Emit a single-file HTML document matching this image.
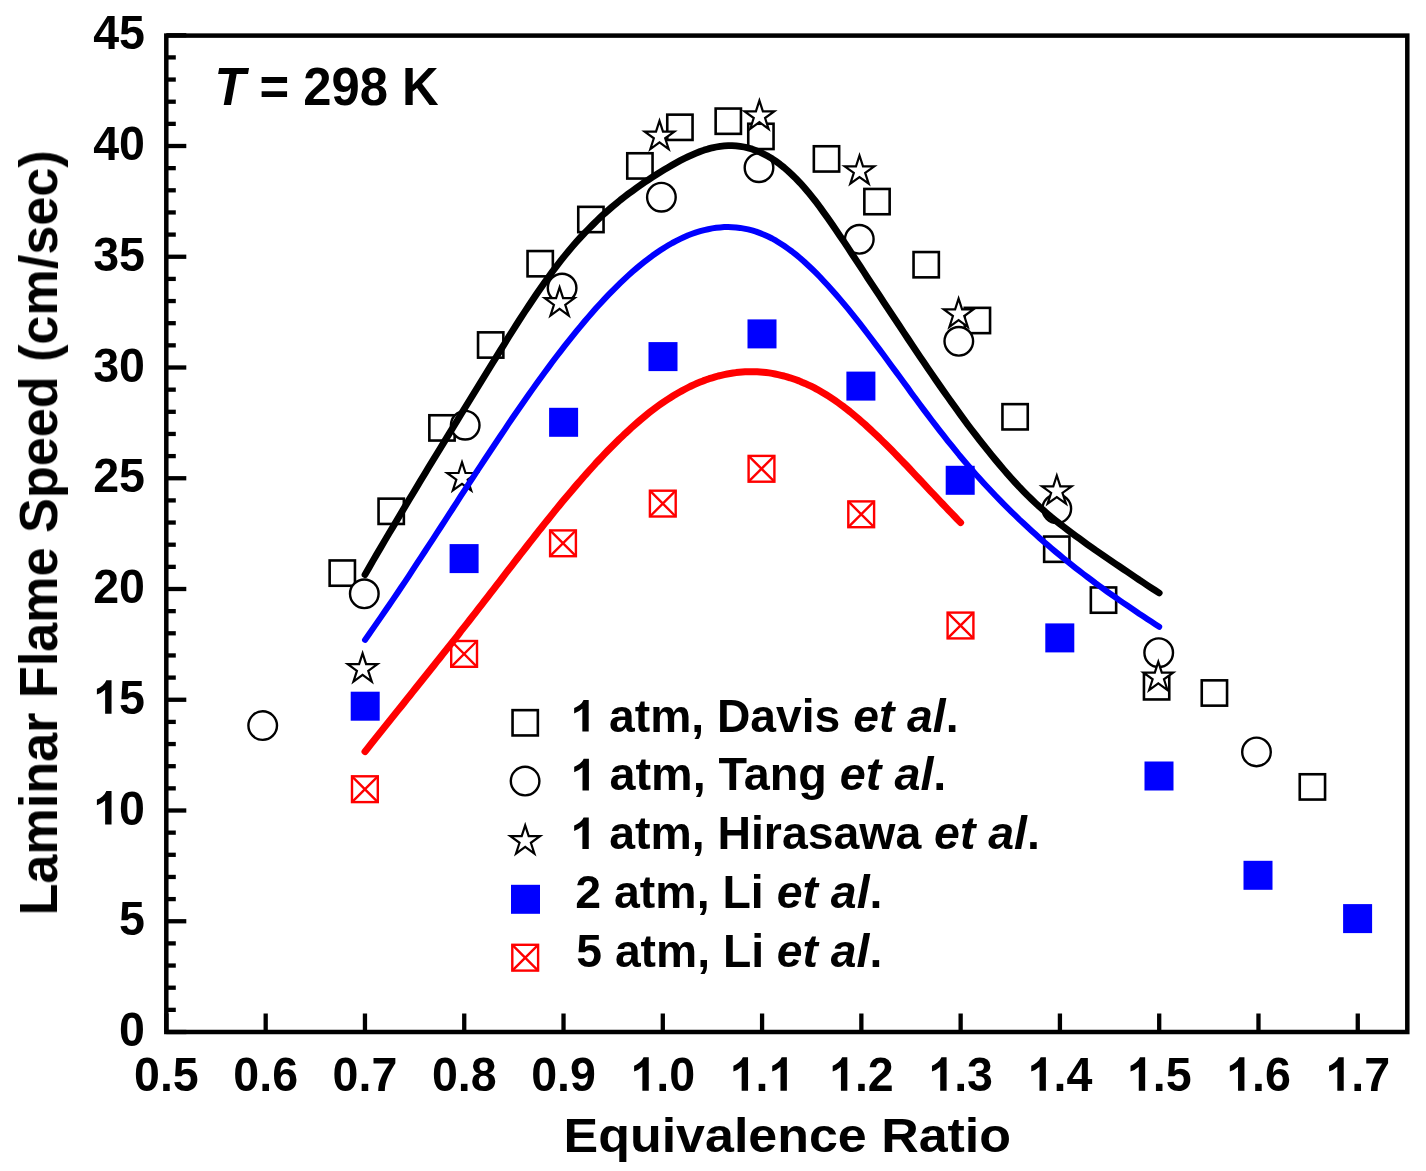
<!DOCTYPE html>
<html><head><meta charset="utf-8"><title>Laminar Flame Speed</title>
<style>html,body{margin:0;padding:0;background:#fff;}body{width:1426px;height:1171px;position:relative;overflow:hidden;font-family:"Liberation Sans", sans-serif;}</style>
</head><body>
<svg width="1426" height="1171" viewBox="0 0 1426 1171" style="position:absolute;left:0;top:0" font-family='"Liberation Sans", sans-serif' font-weight="bold" fill="#000">
<rect width="1426" height="1171" fill="#fff"/>
<rect x="329.65" y="560.45" width="25.30" height="25.30" fill="#fff" stroke="#000" stroke-width="2.6"/>
<rect x="378.55" y="498.65" width="25.30" height="25.30" fill="#fff" stroke="#000" stroke-width="2.6"/>
<rect x="429.35" y="415.25" width="25.30" height="25.30" fill="#fff" stroke="#000" stroke-width="2.6"/>
<rect x="478.05" y="332.35" width="25.30" height="25.30" fill="#fff" stroke="#000" stroke-width="2.6"/>
<rect x="527.55" y="251.05" width="25.30" height="25.30" fill="#fff" stroke="#000" stroke-width="2.6"/>
<rect x="578.25" y="206.85" width="25.30" height="25.30" fill="#fff" stroke="#000" stroke-width="2.6"/>
<rect x="627.25" y="153.25" width="25.30" height="25.30" fill="#fff" stroke="#000" stroke-width="2.6"/>
<rect x="667.25" y="114.65" width="25.30" height="25.30" fill="#fff" stroke="#000" stroke-width="2.6"/>
<rect x="715.65" y="108.55" width="25.30" height="25.30" fill="#fff" stroke="#000" stroke-width="2.6"/>
<rect x="748.25" y="123.75" width="25.30" height="25.30" fill="#fff" stroke="#000" stroke-width="2.6"/>
<rect x="813.85" y="146.25" width="25.30" height="25.30" fill="#fff" stroke="#000" stroke-width="2.6"/>
<rect x="864.35" y="188.95" width="25.30" height="25.30" fill="#fff" stroke="#000" stroke-width="2.6"/>
<rect x="913.55" y="252.05" width="25.30" height="25.30" fill="#fff" stroke="#000" stroke-width="2.6"/>
<rect x="964.75" y="307.85" width="25.30" height="25.30" fill="#fff" stroke="#000" stroke-width="2.6"/>
<rect x="1002.45" y="404.15" width="25.30" height="25.30" fill="#fff" stroke="#000" stroke-width="2.6"/>
<rect x="1044.15" y="536.55" width="25.30" height="25.30" fill="#fff" stroke="#000" stroke-width="2.6"/>
<rect x="1090.85" y="587.45" width="25.30" height="25.30" fill="#fff" stroke="#000" stroke-width="2.6"/>
<rect x="1143.95" y="674.15" width="25.30" height="25.30" fill="#fff" stroke="#000" stroke-width="2.6"/>
<rect x="1201.75" y="680.35" width="25.30" height="25.30" fill="#fff" stroke="#000" stroke-width="2.6"/>
<rect x="1299.75" y="774.25" width="25.30" height="25.30" fill="#fff" stroke="#000" stroke-width="2.6"/>
<circle cx="262.70" cy="725.60" r="14.30" fill="#fff" stroke="#000" stroke-width="2.4"/>
<circle cx="364.30" cy="593.80" r="14.30" fill="#fff" stroke="#000" stroke-width="2.4"/>
<circle cx="465.20" cy="425.20" r="14.30" fill="#fff" stroke="#000" stroke-width="2.4"/>
<circle cx="562.10" cy="288.00" r="14.30" fill="#fff" stroke="#000" stroke-width="2.4"/>
<circle cx="661.40" cy="197.20" r="14.30" fill="#fff" stroke="#000" stroke-width="2.4"/>
<circle cx="759.00" cy="167.70" r="14.30" fill="#fff" stroke="#000" stroke-width="2.4"/>
<circle cx="859.30" cy="239.30" r="14.30" fill="#fff" stroke="#000" stroke-width="2.4"/>
<circle cx="958.80" cy="341.30" r="14.30" fill="#fff" stroke="#000" stroke-width="2.4"/>
<circle cx="1056.80" cy="508.80" r="14.30" fill="#fff" stroke="#000" stroke-width="2.4"/>
<circle cx="1158.70" cy="652.70" r="14.30" fill="#fff" stroke="#000" stroke-width="2.4"/>
<circle cx="1256.50" cy="751.90" r="14.30" fill="#fff" stroke="#000" stroke-width="2.4"/>
<polygon points="362.60,653.40 366.10,664.18 377.44,664.18 368.27,670.84 371.77,681.62 362.60,674.96 353.43,681.62 356.93,670.84 347.76,664.18 359.10,664.18" fill="#fff" stroke="#000" stroke-width="2.2" stroke-linejoin="miter"/>
<polygon points="462.00,462.20 465.50,472.98 476.84,472.98 467.67,479.64 471.17,490.42 462.00,483.76 452.83,490.42 456.33,479.64 447.16,472.98 458.50,472.98" fill="#fff" stroke="#000" stroke-width="2.2" stroke-linejoin="miter"/>
<polygon points="559.60,287.40 563.10,298.18 574.44,298.18 565.27,304.84 568.77,315.62 559.60,308.96 550.43,315.62 553.93,304.84 544.76,298.18 556.10,298.18" fill="#fff" stroke="#000" stroke-width="2.2" stroke-linejoin="miter"/>
<polygon points="659.50,120.80 663.00,131.58 674.34,131.58 665.17,138.24 668.67,149.02 659.50,142.36 650.33,149.02 653.83,138.24 644.66,131.58 656.00,131.58" fill="#fff" stroke="#000" stroke-width="2.2" stroke-linejoin="miter"/>
<polygon points="759.40,100.60 762.90,111.38 774.24,111.38 765.07,118.04 768.57,128.82 759.40,122.16 750.23,128.82 753.73,118.04 744.56,111.38 755.90,111.38" fill="#fff" stroke="#000" stroke-width="2.2" stroke-linejoin="miter"/>
<polygon points="859.50,155.50 863.00,166.28 874.34,166.28 865.17,172.94 868.67,183.72 859.50,177.06 850.33,183.72 853.83,172.94 844.66,166.28 856.00,166.28" fill="#fff" stroke="#000" stroke-width="2.2" stroke-linejoin="miter"/>
<polygon points="958.60,298.60 962.10,309.38 973.44,309.38 964.27,316.04 967.77,326.82 958.60,320.16 949.43,326.82 952.93,316.04 943.76,309.38 955.10,309.38" fill="#fff" stroke="#000" stroke-width="2.2" stroke-linejoin="miter"/>
<polygon points="1056.80,475.50 1060.30,486.28 1071.64,486.28 1062.47,492.94 1065.97,503.72 1056.80,497.06 1047.63,503.72 1051.13,492.94 1041.96,486.28 1053.30,486.28" fill="#fff" stroke="#000" stroke-width="2.2" stroke-linejoin="miter"/>
<polygon points="1158.30,661.80 1161.80,672.58 1173.14,672.58 1163.97,679.24 1167.47,690.02 1158.30,683.36 1149.13,690.02 1152.63,679.24 1143.46,672.58 1154.80,672.58" fill="#fff" stroke="#000" stroke-width="2.2" stroke-linejoin="miter"/>
<rect x="350.70" y="691.70" width="29.00" height="29.00" fill="#0000ff"/>
<rect x="449.60" y="544.10" width="29.00" height="29.00" fill="#0000ff"/>
<rect x="549.10" y="407.80" width="29.00" height="29.00" fill="#0000ff"/>
<rect x="648.50" y="342.10" width="29.00" height="29.00" fill="#0000ff"/>
<rect x="747.50" y="319.40" width="29.00" height="29.00" fill="#0000ff"/>
<rect x="846.40" y="371.60" width="29.00" height="29.00" fill="#0000ff"/>
<rect x="945.70" y="465.80" width="29.00" height="29.00" fill="#0000ff"/>
<rect x="1045.30" y="623.40" width="29.00" height="29.00" fill="#0000ff"/>
<rect x="1144.50" y="761.50" width="29.00" height="29.00" fill="#0000ff"/>
<rect x="1243.50" y="860.80" width="29.00" height="29.00" fill="#0000ff"/>
<rect x="1343.10" y="904.10" width="29.00" height="29.00" fill="#0000ff"/>
<rect x="352.00" y="776.30" width="25.80" height="25.80" fill="#fff" stroke="#ff0000" stroke-width="2.4"/><path d="M352.00 776.30L377.80 802.10M377.80 776.30L352.00 802.10" stroke="#ff0000" stroke-width="2.4" fill="none"/>
<rect x="451.20" y="641.00" width="25.80" height="25.80" fill="#fff" stroke="#ff0000" stroke-width="2.4"/><path d="M451.20 641.00L477.00 666.80M477.00 641.00L451.20 666.80" stroke="#ff0000" stroke-width="2.4" fill="none"/>
<rect x="550.10" y="530.40" width="25.80" height="25.80" fill="#fff" stroke="#ff0000" stroke-width="2.4"/><path d="M550.10 530.40L575.90 556.20M575.90 530.40L550.10 556.20" stroke="#ff0000" stroke-width="2.4" fill="none"/>
<rect x="649.90" y="490.70" width="25.80" height="25.80" fill="#fff" stroke="#ff0000" stroke-width="2.4"/><path d="M649.90 490.70L675.70 516.50M675.70 490.70L649.90 516.50" stroke="#ff0000" stroke-width="2.4" fill="none"/>
<rect x="748.60" y="455.90" width="25.80" height="25.80" fill="#fff" stroke="#ff0000" stroke-width="2.4"/><path d="M748.60 455.90L774.40 481.70M774.40 455.90L748.60 481.70" stroke="#ff0000" stroke-width="2.4" fill="none"/>
<rect x="848.30" y="501.40" width="25.80" height="25.80" fill="#fff" stroke="#ff0000" stroke-width="2.4"/><path d="M848.30 501.40L874.10 527.20M874.10 501.40L848.30 527.20" stroke="#ff0000" stroke-width="2.4" fill="none"/>
<rect x="947.60" y="612.60" width="25.80" height="25.80" fill="#fff" stroke="#ff0000" stroke-width="2.4"/><path d="M947.60 612.60L973.40 638.40M973.40 612.60L947.60 638.40" stroke="#ff0000" stroke-width="2.4" fill="none"/>
<polyline points="365.0,574.6 369.0,567.7 372.9,560.9 376.9,554.0 380.9,547.2 384.9,540.4 388.9,533.6 392.9,526.9 396.9,520.2 400.9,513.5 404.9,506.8 408.9,500.1 412.9,493.5 416.8,486.9 420.8,480.3 424.8,473.7 428.8,467.1 432.8,460.5 436.8,454.0 440.8,447.4 444.8,440.9 448.8,434.4 452.8,427.8 456.8,421.3 460.7,414.8 464.7,408.3 468.7,401.8 472.7,395.3 476.7,388.8 480.7,382.3 484.7,375.8 488.7,369.3 492.7,362.8 496.7,356.4 500.7,349.9 504.7,343.5 508.6,337.1 512.6,330.7 516.6,324.4 520.6,318.2 524.6,312.0 528.6,306.0 532.6,300.0 536.6,294.0 540.6,288.2 544.6,282.5 548.6,277.0 552.5,271.5 556.5,266.2 560.5,261.0 564.5,256.0 568.5,251.1 572.5,246.4 576.5,241.8 580.5,237.4 584.5,233.1 588.5,229.0 592.5,225.0 596.4,221.1 600.4,217.3 604.4,213.6 608.4,210.1 612.4,206.6 616.4,203.3 620.4,200.0 624.4,196.9 628.4,193.8 632.4,190.9 636.4,188.0 640.3,185.2 644.3,182.4 648.3,179.8 652.3,177.2 656.3,174.6 660.3,172.1 664.3,169.7 668.3,167.3 672.3,165.0 676.3,162.8 680.3,160.6 684.3,158.5 688.2,156.6 692.2,154.8 696.2,153.1 700.2,151.5 704.2,150.1 708.2,148.9 712.2,147.8 716.2,147.0 720.2,146.3 724.2,145.9 728.2,145.6 732.1,145.6 736.1,145.8 740.1,146.3 744.1,147.0 748.1,147.9 752.1,149.1 756.1,150.6 760.1,152.2 764.1,154.2 768.1,156.3 772.1,158.7 776.0,161.4 780.0,164.3 784.0,167.5 788.0,171.0 792.0,174.7 796.0,178.6 800.0,182.8 804.0,187.3 808.0,191.9 812.0,196.8 816.0,201.9 820.0,207.2 823.9,212.7 827.9,218.3 831.9,224.0 835.9,229.9 839.9,235.8 843.9,241.7 847.9,247.7 851.9,253.8 855.9,259.8 859.9,265.9 863.9,272.0 867.8,278.1 871.8,284.1 875.8,290.2 879.8,296.2 883.8,302.3 887.8,308.3 891.8,314.4 895.8,320.4 899.8,326.4 903.8,332.5 907.8,338.5 911.7,344.4 915.7,350.4 919.7,356.3 923.7,362.2 927.7,368.1 931.7,373.9 935.7,379.7 939.7,385.5 943.7,391.2 947.7,396.9 951.7,402.5 955.7,408.0 959.6,413.5 963.6,419.0 967.6,424.4 971.6,429.7 975.6,434.9 979.6,440.1 983.6,445.2 987.6,450.2 991.6,455.1 995.6,460.0 999.6,464.8 1003.5,469.4 1007.5,474.0 1011.5,478.5 1015.5,482.9 1019.5,487.2 1023.5,491.3 1027.5,495.4 1031.5,499.3 1035.5,503.1 1039.5,506.8 1043.5,510.3 1047.4,513.7 1051.4,517.1 1055.4,520.3 1059.4,523.5 1063.4,526.6 1067.4,529.7 1071.4,532.7 1075.4,535.7 1079.4,538.6 1083.4,541.5 1087.4,544.4 1091.4,547.2 1095.3,550.0 1099.3,552.7 1103.3,555.5 1107.3,558.2 1111.3,561.0 1115.3,563.7 1119.3,566.4 1123.3,569.1 1127.3,571.8 1131.3,574.5 1135.3,577.2 1139.2,579.9 1143.2,582.5 1147.2,585.2 1151.2,587.8 1155.2,590.4 1159.2,593.0" fill="none" stroke="#000" stroke-width="6.8" stroke-linecap="round" stroke-linejoin="round"/>
<polyline points="365.0,639.9 369.0,634.3 372.9,628.6 376.9,622.9 380.9,617.1 384.9,611.3 388.9,605.5 392.9,599.6 396.9,593.7 400.9,587.8 404.9,581.8 408.9,575.8 412.9,569.7 416.8,563.7 420.8,557.6 424.8,551.5 428.8,545.4 432.8,539.3 436.8,533.1 440.8,527.0 444.8,520.8 448.8,514.7 452.8,508.5 456.8,502.4 460.7,496.2 464.7,490.1 468.7,483.9 472.7,477.8 476.7,471.7 480.7,465.6 484.7,459.5 488.7,453.5 492.7,447.5 496.7,441.5 500.7,435.5 504.7,429.6 508.6,423.7 512.6,417.8 516.6,412.0 520.6,406.2 524.6,400.5 528.6,394.8 532.6,389.1 536.6,383.5 540.6,378.0 544.6,372.5 548.6,367.1 552.5,361.8 556.5,356.5 560.5,351.3 564.5,346.1 568.5,341.1 572.5,336.1 576.5,331.1 580.5,326.3 584.5,321.5 588.5,316.9 592.5,312.3 596.4,307.8 600.4,303.4 604.4,299.1 608.4,294.9 612.4,290.8 616.4,286.8 620.4,282.9 624.4,279.1 628.4,275.4 632.4,271.8 636.4,268.4 640.3,265.1 644.3,261.9 648.3,258.8 652.3,255.8 656.3,253.0 660.3,250.3 664.3,247.7 668.3,245.3 672.3,243.0 676.3,240.9 680.3,238.9 684.3,237.0 688.2,235.3 692.2,233.8 696.2,232.4 700.2,231.2 704.2,230.1 708.2,229.2 712.2,228.4 716.2,227.8 720.2,227.4 724.2,227.1 728.2,227.1 732.1,227.2 736.1,227.4 740.1,227.9 744.1,228.6 748.1,229.4 752.1,230.4 756.1,231.6 760.1,233.1 764.1,234.7 768.1,236.5 772.1,238.5 776.0,240.7 780.0,243.2 784.0,245.8 788.0,248.6 792.0,251.5 796.0,254.7 800.0,258.0 804.0,261.5 808.0,265.2 812.0,269.0 816.0,272.9 820.0,277.0 823.9,281.2 827.9,285.5 831.9,289.9 835.9,294.5 839.9,299.1 843.9,303.9 847.9,308.7 851.9,313.6 855.9,318.6 859.9,323.7 863.9,328.8 867.8,334.0 871.8,339.3 875.8,344.6 879.8,349.9 883.8,355.3 887.8,360.7 891.8,366.2 895.8,371.6 899.8,377.0 903.8,382.5 907.8,387.9 911.7,393.4 915.7,398.8 919.7,404.2 923.7,409.6 927.7,414.9 931.7,420.2 935.7,425.4 939.7,430.6 943.7,435.7 947.7,440.8 951.7,445.7 955.7,450.6 959.6,455.5 963.6,460.2 967.6,464.9 971.6,469.5 975.6,474.1 979.6,478.5 983.6,482.9 987.6,487.2 991.6,491.5 995.6,495.7 999.6,499.8 1003.5,503.9 1007.5,507.9 1011.5,511.8 1015.5,515.7 1019.5,519.6 1023.5,523.3 1027.5,527.0 1031.5,530.7 1035.5,534.3 1039.5,537.9 1043.5,541.4 1047.4,544.8 1051.4,548.2 1055.4,551.6 1059.4,554.9 1063.4,558.2 1067.4,561.4 1071.4,564.6 1075.4,567.8 1079.4,570.9 1083.4,574.0 1087.4,577.0 1091.4,580.0 1095.3,583.0 1099.3,585.9 1103.3,588.8 1107.3,591.7 1111.3,594.5 1115.3,597.3 1119.3,600.1 1123.3,602.9 1127.3,605.6 1131.3,608.3 1135.3,611.0 1139.2,613.7 1143.2,616.3 1147.2,619.0 1151.2,621.6 1155.2,624.2 1159.2,626.8" fill="none" stroke="#0000ff" stroke-width="6.0" stroke-linecap="round" stroke-linejoin="round"/>
<polyline points="365.0,751.6 368.0,747.8 370.9,744.1 373.9,740.3 376.9,736.6 379.9,732.8 382.9,729.1 385.9,725.4 388.9,721.6 391.9,717.9 394.9,714.1 397.9,710.4 400.9,706.7 403.9,703.0 406.9,699.2 409.9,695.5 412.9,691.7 415.8,688.0 418.8,684.3 421.8,680.5 424.8,676.8 427.8,673.0 430.8,669.3 433.8,665.5 436.8,661.7 439.8,658.0 442.8,654.2 445.8,650.4 448.8,646.6 451.8,642.8 454.8,639.1 457.8,635.3 460.7,631.4 463.7,627.6 466.7,623.8 469.7,620.0 472.7,616.1 475.7,612.3 478.7,608.4 481.7,604.6 484.7,600.7 487.7,596.8 490.7,592.9 493.7,589.1 496.7,585.2 499.7,581.3 502.7,577.4 505.6,573.5 508.6,569.6 511.6,565.8 514.6,561.9 517.6,558.0 520.6,554.2 523.6,550.3 526.6,546.5 529.6,542.6 532.6,538.8 535.6,535.0 538.6,531.2 541.6,527.5 544.6,523.7 547.6,520.0 550.5,516.3 553.5,512.6 556.5,508.9 559.5,505.2 562.5,501.6 565.5,498.0 568.5,494.5 571.5,490.9 574.5,487.4 577.5,483.9 580.5,480.5 583.5,477.0 586.5,473.7 589.5,470.3 592.5,467.0 595.4,463.7 598.4,460.5 601.4,457.3 604.4,454.1 607.4,451.0 610.4,448.0 613.4,445.0 616.4,442.0 619.4,439.0 622.4,436.2 625.4,433.3 628.4,430.6 631.4,427.8 634.4,425.1 637.4,422.5 640.3,420.0 643.3,417.5 646.3,415.0 649.3,412.6 652.3,410.3 655.3,408.0 658.3,405.8 661.3,403.7 664.3,401.6 667.3,399.6 670.3,397.7 673.3,395.8 676.3,394.0 679.3,392.3 682.3,390.6 685.3,389.0 688.2,387.5 691.2,386.0 694.2,384.6 697.2,383.3 700.2,382.1 703.2,380.9 706.2,379.8 709.2,378.7 712.2,377.8 715.2,376.9 718.2,376.0 721.2,375.3 724.2,374.6 727.2,374.0 730.2,373.5 733.1,373.0 736.1,372.6 739.1,372.3 742.1,372.0 745.1,371.8 748.1,371.7 751.1,371.7 754.1,371.7 757.1,371.8 760.1,372.0 763.1,372.2 766.1,372.5 769.1,372.9 772.1,373.4 775.1,374.0 778.0,374.6 781.0,375.3 784.0,376.0 787.0,376.9 790.0,377.8 793.0,378.8 796.0,379.8 799.0,380.9 802.0,382.2 805.0,383.4 808.0,384.8 811.0,386.2 814.0,387.7 817.0,389.3 820.0,391.0 822.9,392.7 825.9,394.5 828.9,396.4 831.9,398.4 834.9,400.4 837.9,402.5 840.9,404.7 843.9,406.9 846.9,409.3 849.9,411.6 852.9,414.1 855.9,416.6 858.9,419.2 861.9,421.8 864.9,424.4 867.8,427.1 870.8,429.9 873.8,432.7 876.8,435.6 879.8,438.4 882.8,441.4 885.8,444.3 888.8,447.3 891.8,450.3 894.8,453.4 897.8,456.5 900.8,459.6 903.8,462.7 906.8,465.8 909.8,469.0 912.7,472.1 915.7,475.3 918.7,478.5 921.7,481.7 924.7,484.9 927.7,488.1 930.7,491.3 933.7,494.4 936.7,497.6 939.7,500.8 942.7,504.0 945.7,507.1 948.7,510.3 951.7,513.4 954.7,516.5 957.6,519.6 960.6,522.6" fill="none" stroke="#ff0000" stroke-width="7.0" stroke-linecap="round" stroke-linejoin="round"/>
<rect x="166.3" y="35.6" width="1241.0" height="996.4" fill="none" stroke="#000" stroke-width="4.5"/>
<line x1="166.3" y1="1032.00" x2="186.3" y2="1032.00" stroke="#000" stroke-width="4.3"/>
<line x1="166.3" y1="1009.85" x2="175.8" y2="1009.85" stroke="#000" stroke-width="4.3"/>
<line x1="166.3" y1="987.70" x2="175.8" y2="987.70" stroke="#000" stroke-width="4.3"/>
<line x1="166.3" y1="965.55" x2="175.8" y2="965.55" stroke="#000" stroke-width="4.3"/>
<line x1="166.3" y1="943.40" x2="175.8" y2="943.40" stroke="#000" stroke-width="4.3"/>
<line x1="166.3" y1="921.25" x2="186.3" y2="921.25" stroke="#000" stroke-width="4.3"/>
<line x1="166.3" y1="899.10" x2="175.8" y2="899.10" stroke="#000" stroke-width="4.3"/>
<line x1="166.3" y1="876.95" x2="175.8" y2="876.95" stroke="#000" stroke-width="4.3"/>
<line x1="166.3" y1="854.80" x2="175.8" y2="854.80" stroke="#000" stroke-width="4.3"/>
<line x1="166.3" y1="832.65" x2="175.8" y2="832.65" stroke="#000" stroke-width="4.3"/>
<line x1="166.3" y1="810.50" x2="186.3" y2="810.50" stroke="#000" stroke-width="4.3"/>
<line x1="166.3" y1="788.35" x2="175.8" y2="788.35" stroke="#000" stroke-width="4.3"/>
<line x1="166.3" y1="766.20" x2="175.8" y2="766.20" stroke="#000" stroke-width="4.3"/>
<line x1="166.3" y1="744.05" x2="175.8" y2="744.05" stroke="#000" stroke-width="4.3"/>
<line x1="166.3" y1="721.90" x2="175.8" y2="721.90" stroke="#000" stroke-width="4.3"/>
<line x1="166.3" y1="699.75" x2="186.3" y2="699.75" stroke="#000" stroke-width="4.3"/>
<line x1="166.3" y1="677.60" x2="175.8" y2="677.60" stroke="#000" stroke-width="4.3"/>
<line x1="166.3" y1="655.45" x2="175.8" y2="655.45" stroke="#000" stroke-width="4.3"/>
<line x1="166.3" y1="633.30" x2="175.8" y2="633.30" stroke="#000" stroke-width="4.3"/>
<line x1="166.3" y1="611.15" x2="175.8" y2="611.15" stroke="#000" stroke-width="4.3"/>
<line x1="166.3" y1="589.00" x2="186.3" y2="589.00" stroke="#000" stroke-width="4.3"/>
<line x1="166.3" y1="566.85" x2="175.8" y2="566.85" stroke="#000" stroke-width="4.3"/>
<line x1="166.3" y1="544.70" x2="175.8" y2="544.70" stroke="#000" stroke-width="4.3"/>
<line x1="166.3" y1="522.55" x2="175.8" y2="522.55" stroke="#000" stroke-width="4.3"/>
<line x1="166.3" y1="500.40" x2="175.8" y2="500.40" stroke="#000" stroke-width="4.3"/>
<line x1="166.3" y1="478.25" x2="186.3" y2="478.25" stroke="#000" stroke-width="4.3"/>
<line x1="166.3" y1="456.10" x2="175.8" y2="456.10" stroke="#000" stroke-width="4.3"/>
<line x1="166.3" y1="433.95" x2="175.8" y2="433.95" stroke="#000" stroke-width="4.3"/>
<line x1="166.3" y1="411.80" x2="175.8" y2="411.80" stroke="#000" stroke-width="4.3"/>
<line x1="166.3" y1="389.65" x2="175.8" y2="389.65" stroke="#000" stroke-width="4.3"/>
<line x1="166.3" y1="367.50" x2="186.3" y2="367.50" stroke="#000" stroke-width="4.3"/>
<line x1="166.3" y1="345.35" x2="175.8" y2="345.35" stroke="#000" stroke-width="4.3"/>
<line x1="166.3" y1="323.20" x2="175.8" y2="323.20" stroke="#000" stroke-width="4.3"/>
<line x1="166.3" y1="301.05" x2="175.8" y2="301.05" stroke="#000" stroke-width="4.3"/>
<line x1="166.3" y1="278.90" x2="175.8" y2="278.90" stroke="#000" stroke-width="4.3"/>
<line x1="166.3" y1="256.75" x2="186.3" y2="256.75" stroke="#000" stroke-width="4.3"/>
<line x1="166.3" y1="234.60" x2="175.8" y2="234.60" stroke="#000" stroke-width="4.3"/>
<line x1="166.3" y1="212.45" x2="175.8" y2="212.45" stroke="#000" stroke-width="4.3"/>
<line x1="166.3" y1="190.30" x2="175.8" y2="190.30" stroke="#000" stroke-width="4.3"/>
<line x1="166.3" y1="168.15" x2="175.8" y2="168.15" stroke="#000" stroke-width="4.3"/>
<line x1="166.3" y1="146.00" x2="186.3" y2="146.00" stroke="#000" stroke-width="4.3"/>
<line x1="166.3" y1="123.85" x2="175.8" y2="123.85" stroke="#000" stroke-width="4.3"/>
<line x1="166.3" y1="101.70" x2="175.8" y2="101.70" stroke="#000" stroke-width="4.3"/>
<line x1="166.3" y1="79.55" x2="175.8" y2="79.55" stroke="#000" stroke-width="4.3"/>
<line x1="166.3" y1="57.40" x2="175.8" y2="57.40" stroke="#000" stroke-width="4.3"/>
<line x1="166.3" y1="35.25" x2="186.3" y2="35.25" stroke="#000" stroke-width="4.3"/>
<line x1="166.40" y1="1032.0" x2="166.40" y2="1013.5" stroke="#000" stroke-width="4.3"/>
<line x1="265.68" y1="1032.0" x2="265.68" y2="1013.5" stroke="#000" stroke-width="4.3"/>
<line x1="364.96" y1="1032.0" x2="364.96" y2="1013.5" stroke="#000" stroke-width="4.3"/>
<line x1="464.24" y1="1032.0" x2="464.24" y2="1013.5" stroke="#000" stroke-width="4.3"/>
<line x1="563.52" y1="1032.0" x2="563.52" y2="1013.5" stroke="#000" stroke-width="4.3"/>
<line x1="662.80" y1="1032.0" x2="662.80" y2="1013.5" stroke="#000" stroke-width="4.3"/>
<line x1="762.08" y1="1032.0" x2="762.08" y2="1013.5" stroke="#000" stroke-width="4.3"/>
<line x1="861.36" y1="1032.0" x2="861.36" y2="1013.5" stroke="#000" stroke-width="4.3"/>
<line x1="960.64" y1="1032.0" x2="960.64" y2="1013.5" stroke="#000" stroke-width="4.3"/>
<line x1="1059.92" y1="1032.0" x2="1059.92" y2="1013.5" stroke="#000" stroke-width="4.3"/>
<line x1="1159.20" y1="1032.0" x2="1159.20" y2="1013.5" stroke="#000" stroke-width="4.3"/>
<line x1="1258.48" y1="1032.0" x2="1258.48" y2="1013.5" stroke="#000" stroke-width="4.3"/>
<line x1="1357.76" y1="1032.0" x2="1357.76" y2="1013.5" stroke="#000" stroke-width="4.3"/>
<g opacity="0.999">
<g id="yt0" transform="translate(145.0,1046.0) scale(0.96,1)"><text x="-26.97" y="0" font-size="48.5">0</text></g>
<g id="yt5" transform="translate(145.0,935.25) scale(0.96,1)"><text x="-26.97" y="0" font-size="48.5">5</text></g>
<g id="yt10" transform="translate(145.0,824.5) scale(0.96,1)"><path transform="translate(-53.95,0) scale(0.02368,-0.02270)" d="M806 0H525V1059Q371 915 162 846V1101Q272 1137 401 1237.5Q530 1338 578 1472H806Z"/><text x="-26.97" y="0" font-size="48.5">0</text></g>
<g id="yt15" transform="translate(145.0,713.75) scale(0.96,1)"><path transform="translate(-53.95,0) scale(0.02368,-0.02270)" d="M806 0H525V1059Q371 915 162 846V1101Q272 1137 401 1237.5Q530 1338 578 1472H806Z"/><text x="-26.97" y="0" font-size="48.5">5</text></g>
<g id="yt20" transform="translate(145.0,603.0) scale(0.96,1)"><text x="-53.95" y="0" font-size="48.5">2</text><text x="-26.97" y="0" font-size="48.5">0</text></g>
<g id="yt25" transform="translate(145.0,492.25) scale(0.96,1)"><text x="-53.95" y="0" font-size="48.5">2</text><text x="-26.97" y="0" font-size="48.5">5</text></g>
<g id="yt30" transform="translate(145.0,381.5) scale(0.96,1)"><text x="-53.95" y="0" font-size="48.5">3</text><text x="-26.97" y="0" font-size="48.5">0</text></g>
<g id="yt35" transform="translate(145.0,270.75) scale(0.96,1)"><text x="-53.95" y="0" font-size="48.5">3</text><text x="-26.97" y="0" font-size="48.5">5</text></g>
<g id="yt40" transform="translate(145.0,160.0) scale(0.96,1)"><text x="-53.95" y="0" font-size="48.5">4</text><text x="-26.97" y="0" font-size="48.5">0</text></g>
<g id="yt45" transform="translate(145.0,49.25) scale(0.96,1)"><text x="-53.95" y="0" font-size="48.5">4</text><text x="-26.97" y="0" font-size="48.5">5</text></g>
<g id="xt0" transform="translate(166.4,1090.7) scale(0.96,1)"><text x="-33.71" y="0" font-size="48.5">0</text><text x="-6.74" y="0" font-size="48.5">.</text><text x="6.74" y="0" font-size="48.5">5</text></g>
<g id="xt1" transform="translate(265.68,1090.7) scale(0.96,1)"><text x="-33.71" y="0" font-size="48.5">0</text><text x="-6.74" y="0" font-size="48.5">.</text><text x="6.74" y="0" font-size="48.5">6</text></g>
<g id="xt2" transform="translate(364.96,1090.7) scale(0.96,1)"><text x="-33.71" y="0" font-size="48.5">0</text><text x="-6.74" y="0" font-size="48.5">.</text><text x="6.74" y="0" font-size="48.5">7</text></g>
<g id="xt3" transform="translate(464.24,1090.7) scale(0.96,1)"><text x="-33.71" y="0" font-size="48.5">0</text><text x="-6.74" y="0" font-size="48.5">.</text><text x="6.74" y="0" font-size="48.5">8</text></g>
<g id="xt4" transform="translate(563.52,1090.7) scale(0.96,1)"><text x="-33.71" y="0" font-size="48.5">0</text><text x="-6.74" y="0" font-size="48.5">.</text><text x="6.74" y="0" font-size="48.5">9</text></g>
<g id="xt5" transform="translate(662.8,1090.7) scale(0.96,1)"><path transform="translate(-33.71,0) scale(0.02368,-0.02270)" d="M806 0H525V1059Q371 915 162 846V1101Q272 1137 401 1237.5Q530 1338 578 1472H806Z"/><text x="-6.74" y="0" font-size="48.5">.</text><text x="6.74" y="0" font-size="48.5">0</text></g>
<g id="xt6" transform="translate(762.08,1090.7) scale(0.96,1)"><path transform="translate(-33.71,0) scale(0.02368,-0.02270)" d="M806 0H525V1059Q371 915 162 846V1101Q272 1137 401 1237.5Q530 1338 578 1472H806Z"/><text x="-6.74" y="0" font-size="48.5">.</text><path transform="translate(6.74,0) scale(0.02368,-0.02270)" d="M806 0H525V1059Q371 915 162 846V1101Q272 1137 401 1237.5Q530 1338 578 1472H806Z"/></g>
<g id="xt7" transform="translate(861.36,1090.7) scale(0.96,1)"><path transform="translate(-33.71,0) scale(0.02368,-0.02270)" d="M806 0H525V1059Q371 915 162 846V1101Q272 1137 401 1237.5Q530 1338 578 1472H806Z"/><text x="-6.74" y="0" font-size="48.5">.</text><text x="6.74" y="0" font-size="48.5">2</text></g>
<g id="xt8" transform="translate(960.64,1090.7) scale(0.96,1)"><path transform="translate(-33.71,0) scale(0.02368,-0.02270)" d="M806 0H525V1059Q371 915 162 846V1101Q272 1137 401 1237.5Q530 1338 578 1472H806Z"/><text x="-6.74" y="0" font-size="48.5">.</text><text x="6.74" y="0" font-size="48.5">3</text></g>
<g id="xt9" transform="translate(1059.92,1090.7) scale(0.96,1)"><path transform="translate(-33.71,0) scale(0.02368,-0.02270)" d="M806 0H525V1059Q371 915 162 846V1101Q272 1137 401 1237.5Q530 1338 578 1472H806Z"/><text x="-6.74" y="0" font-size="48.5">.</text><text x="6.74" y="0" font-size="48.5">4</text></g>
<g id="xt10" transform="translate(1159.2,1090.7) scale(0.96,1)"><path transform="translate(-33.71,0) scale(0.02368,-0.02270)" d="M806 0H525V1059Q371 915 162 846V1101Q272 1137 401 1237.5Q530 1338 578 1472H806Z"/><text x="-6.74" y="0" font-size="48.5">.</text><text x="6.74" y="0" font-size="48.5">5</text></g>
<g id="xt11" transform="translate(1258.48,1090.7) scale(0.96,1)"><path transform="translate(-33.71,0) scale(0.02368,-0.02270)" d="M806 0H525V1059Q371 915 162 846V1101Q272 1137 401 1237.5Q530 1338 578 1472H806Z"/><text x="-6.74" y="0" font-size="48.5">.</text><text x="6.74" y="0" font-size="48.5">6</text></g>
<g id="xt12" transform="translate(1357.76,1090.7) scale(0.96,1)"><path transform="translate(-33.71,0) scale(0.02368,-0.02270)" d="M806 0H525V1059Q371 915 162 846V1101Q272 1137 401 1237.5Q530 1338 578 1472H806Z"/><text x="-6.74" y="0" font-size="48.5">.</text><text x="6.74" y="0" font-size="48.5">7</text></g>
<text id="xlabel" transform="translate(787.3,1152.3) scale(1.069,1)" font-size="48.6" text-anchor="middle">Equivalence Ratio</text>
<text id="ylabel" transform="translate(57,532.9) rotate(-90) scale(0.966,1)" font-size="54" text-anchor="middle">Laminar Flame Speed (cm/sec)</text>
<text id="tlabel" transform="translate(214.5,105.4) scale(0.958,1)" font-size="53" text-anchor="start"><tspan font-style="italic">T</tspan> = 298 K</text>
<g id="leg0" transform="translate(570.5,731.6) scale(1.0053,1)"><path transform="translate(0.00,0) scale(0.02246,-0.02153)" d="M806 0H525V1059Q371 915 162 846V1101Q272 1137 401 1237.5Q530 1338 578 1472H806Z"/><text x="25.58" y="0" font-size="46" style="white-space:pre"> atm, Davis <tspan font-style="italic">et al</tspan>.</text></g>
<g id="leg1" transform="translate(570.5,790.4) scale(1.0166,1)"><path transform="translate(0.00,0) scale(0.02246,-0.02153)" d="M806 0H525V1059Q371 915 162 846V1101Q272 1137 401 1237.5Q530 1338 578 1472H806Z"/><text x="25.58" y="0" font-size="46" style="white-space:pre"> atm, Tang <tspan font-style="italic">et al</tspan>.</text></g>
<g id="leg2" transform="translate(570.5,849.1) scale(1.009,1)"><path transform="translate(0.00,0) scale(0.02246,-0.02153)" d="M806 0H525V1059Q371 915 162 846V1101Q272 1137 401 1237.5Q530 1338 578 1472H806Z"/><text x="25.58" y="0" font-size="46" style="white-space:pre"> atm, Hirasawa <tspan font-style="italic">et al</tspan>.</text></g>
<text id="leg3" transform="translate(575.3,907.8) scale(1.01,1)" font-size="46" text-anchor="start">2 atm, Li <tspan font-style="italic">et al</tspan>.</text>
<text id="leg4" transform="translate(576.3,966.6) scale(1.0064,1)" font-size="46" text-anchor="start">5 atm, Li <tspan font-style="italic">et al</tspan>.</text>
</g>
<rect x="512.55" y="710.15" width="25.30" height="25.30" fill="#fff" stroke="#000" stroke-width="2.6"/>
<circle cx="525.10" cy="781.10" r="14.30" fill="#fff" stroke="#000" stroke-width="2.4"/>
<polygon points="525.20,825.30 528.70,836.08 540.04,836.08 530.87,842.74 534.37,853.52 525.20,846.86 516.03,853.52 519.53,842.74 510.36,836.08 521.70,836.08" fill="#fff" stroke="#000" stroke-width="2.2" stroke-linejoin="miter"/>
<rect x="511.00" y="884.80" width="29.00" height="29.00" fill="#0000ff"/>
<rect x="512.30" y="944.80" width="25.80" height="25.80" fill="#fff" stroke="#ff0000" stroke-width="2.4"/><path d="M512.30 944.80L538.10 970.60M538.10 944.80L512.30 970.60" stroke="#ff0000" stroke-width="2.4" fill="none"/>
</svg>
</body></html>
